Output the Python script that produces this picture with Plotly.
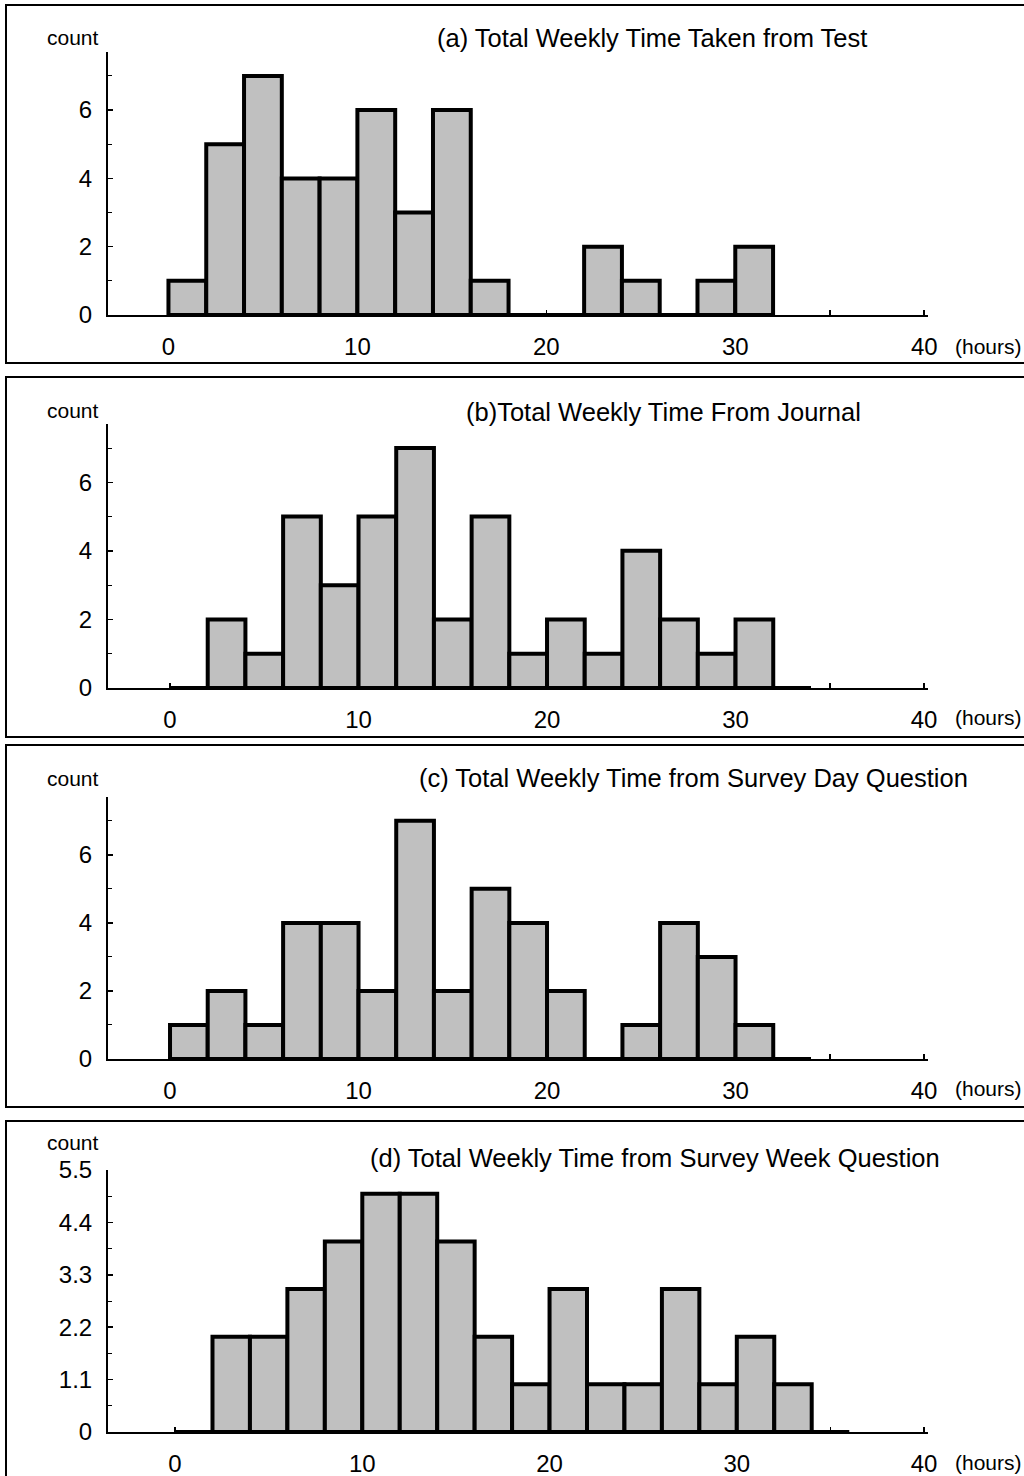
import plotly.graph_objects as go

# ---------------- data ----------------
bin_width = 2
bin_start = 0
counts_a = [1, 5, 7, 4, 4, 6, 3, 6, 1, 0, 0, 2, 1, 0, 1, 2]
counts_b = [0, 2, 1, 5, 3, 5, 7, 2, 5, 1, 2, 1, 4, 2, 1, 2, 0]
counts_c = [1, 2, 1, 4, 4, 2, 7, 2, 5, 4, 2, 0, 1, 4, 3, 1, 0]
counts_d = [0, 2, 2, 3, 4, 5, 5, 4, 2, 1, 3, 1, 1, 3, 1, 2, 1, 0]

titles = [
    "(a) Total Weekly Time Taken from Test",
    "(b)Total Weekly Time From Journal",
    "(c) Total Weekly Time from Survey Day Question",
    "(d) Total Weekly Time from Survey Week Question",
]
x_tickvals = [0, 10, 20, 30, 40]
x_ticktext = ["0", "10", "20", "30", "40"]
y_tickvals_abc = [0, 2, 4, 6]
y_ticktext_abc = ["0", "2", "4", "6"]
y_tickvals_d = [0, 1.1, 2.2, 3.3, 4.4, 5.5]
y_ticktext_d = ["0", "1.1", "2.2", "3.3", "4.4", "5.5"]
y_label = "count"
x_label = "(hours)"

# ---------------- layout (pixels) ----------------
W, H = 1024, 1476
FONT = "Liberation Sans, Arial, Helvetica, sans-serif"


def fx(p):
    return p / W


def fy(p):
    return 1 - p / H


panels = [
    dict(counts=counts_a, xr=[-3.2, 40.2], ybot=315, ytop=52, yr=[0, 7.7],
         ytv=y_tickvals_abc, ytt=y_ticktext_abc, ydt=1,
         tx=652, ty=38, cy=37, hy=347, box=(5, 363)),
    dict(counts=counts_b, xr=[-3.29, 40.21], ybot=688, ytop=424, yr=[0, 7.7],
         ytv=y_tickvals_abc, ytt=y_ticktext_abc, ydt=1,
         tx=663, ty=412, cy=410, hy=717, box=(377, 737)),
    dict(counts=counts_c, xr=[-3.29, 40.21], ybot=1059, ytop=797, yr=[0, 7.7],
         ytv=y_tickvals_abc, ytt=y_ticktext_abc, ydt=1,
         tx=693, ty=778, cy=778, hy=1088, box=(745, 1107)),
    dict(counts=counts_d, xr=[-3.58, 40.21], ybot=1432, ytop=1170, yr=[0, 5.5],
         ytv=y_tickvals_d, ytt=y_ticktext_d, ydt=0.55,
         tx=655, ty=1158, cy=1142, hy=1462, box=(1121, None)),
]

fig = go.Figure()
layout = dict(
    width=W, height=H,
    margin=dict(l=0, r=0, t=0, b=0, pad=0, autoexpand=False),
    paper_bgcolor="white", plot_bgcolor="white",
    showlegend=False,
    font=dict(family=FONT, color="black"),
)
annotations = []
shapes = []

for i, p in enumerate(panels):
    n = "" if i == 0 else str(i + 1)
    xa, ya = "x" + n, "y" + n
    counts = p["counts"]
    lefts = [bin_start + k * bin_width for k in range(len(counts))]
    centers = [l + bin_width / 2 for l in lefts]

    fig.add_trace(go.Bar(
        x=centers, y=counts, width=bin_width,
        marker=dict(color="#c0c0c0", line=dict(color="black", width=4)),
        xaxis=xa, yaxis=ya, hoverinfo="skip",
    ))
    zx, zy = [], []
    for l, c in zip(lefts, counts):
        if c == 0:
            zx += [l, l + bin_width, None]
            zy += [0, 0, None]
    if zx:
        fig.add_trace(go.Scatter(
            x=zx, y=zy, mode="lines", line=dict(color="black", width=4),
            xaxis=xa, yaxis=ya, cliponaxis=False, hoverinfo="skip",
        ))

    layout["xaxis" + n] = dict(
        domain=[fx(108), fx(928)], range=p["xr"], anchor=ya,
        showline=True, linecolor="black", linewidth=2,
        showgrid=False, zeroline=False, automargin=False,
        tickmode="array", tickvals=x_tickvals, ticktext=x_ticktext,
        ticks="inside", ticklen=5, tickwidth=1.5, tickcolor="black",
        minor=dict(dtick=5, tick0=0, ticks="inside", ticklen=5,
                   tickwidth=1.5, tickcolor="black", showgrid=False),
        tickfont=dict(size=24, family=FONT, color="black"),
        ticklabelstandoff=9,
        layer="below traces", fixedrange=True,
    )
    layout["yaxis" + n] = dict(
        domain=[fy(p["ybot"]), fy(p["ytop"])], range=p["yr"], anchor=xa,
        showline=True, linecolor="black", linewidth=2,
        showgrid=False, zeroline=False, automargin=False,
        tickmode="array", tickvals=p["ytv"], ticktext=p["ytt"],
        ticks="inside", ticklen=5, tickwidth=1.5, tickcolor="black",
        minor=dict(dtick=p["ydt"], tick0=0, ticks="inside", ticklen=4,
                   tickwidth=1, tickcolor="black", showgrid=False),
        tickfont=dict(size=24, family=FONT, color="black"),
        ticklabelstandoff=9,
        layer="below traces", fixedrange=True,
    )

    annotations.append(dict(
        text=titles[i], xref="paper", yref="paper",
        x=fx(p["tx"]), y=fy(p["ty"]), xanchor="center", yanchor="middle",
        showarrow=False, font=dict(size=25.5, family=FONT, color="black"),
    ))
    annotations.append(dict(
        text=y_label, xref="paper", yref="paper",
        x=fx(73), y=fy(p["cy"]), xanchor="center", yanchor="middle",
        showarrow=False, font=dict(size=21, family=FONT, color="black"),
    ))
    annotations.append(dict(
        text=x_label, xref="paper", yref="paper",
        x=fx(988), y=fy(p["hy"]), xanchor="center", yanchor="middle",
        showarrow=False, font=dict(size=21, family=FONT, color="black"),
    ))
    # open panel frame: top, left and bottom edges (right edge lies off-page)
    left = fx(6)
    top = fy(p["box"][0])
    if p["box"][1] is None:
        path = f"M 1,{top} L {left},{top} L {left},0"
    else:
        bot = fy(p["box"][1])
        path = f"M 1,{top} L {left},{top} L {left},{bot} L 1,{bot}"
    shapes.append(dict(
        type="path", xref="paper", yref="paper", path=path,
        line=dict(color="black", width=2), layer="below",
    ))

layout["annotations"] = annotations
layout["shapes"] = shapes
fig.update_layout(**layout)
fig.write_html(
    "out.html",
    config={"displayModeBar": False, "staticPlot": True},
    post_script="document.body.style.margin='0';document.body.style.overflow='hidden';",
)
